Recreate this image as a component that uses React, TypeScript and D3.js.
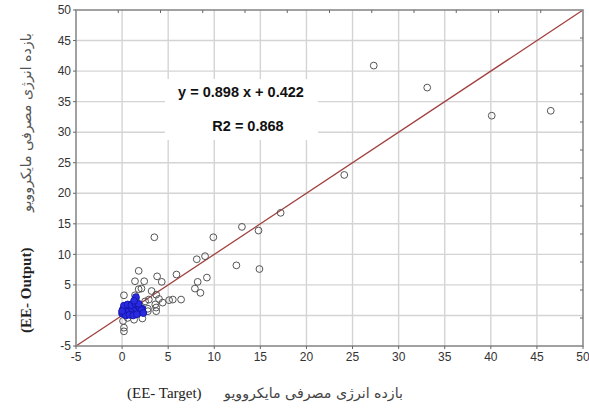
import React from "react";
import * as d3 from "d3";

const greyTarget = [27.3, 33.1, 40.1, 46.5, 24.1, 17.2, 13.0, 14.8, 9.9, 3.5, 12.4, 14.9, 9.0, 8.1, 9.2, 8.2, 7.9, 8.5, 5.9, 3.8, 4.3, 1.8, 1.4, 2.4, 0.2, 1.8, 2.1, 3.2, 1.4, 3.7, 4.0, 1.5, 2.5, 2.9, 4.4, 3.6, 5.1, 5.5, 6.4, 3.7, 2.8, 3.7, 2.2, 1.3, 0.6, 0.1, 0.2, 0.2, 0.1, 1.0, 2.8];
const greyOutput = [40.9, 37.3, 32.7, 33.5, 23.0, 16.8, 14.5, 13.9, 12.8, 12.8, 8.2, 7.6, 9.7, 9.2, 6.2, 5.5, 4.4, 3.7, 6.7, 6.4, 5.5, 7.3, 5.6, 5.6, 3.3, 4.3, 4.4, 4.0, 3.3, 3.4, 2.7, 2.6, 2.3, 2.6, 2.1, 1.8, 2.5, 2.6, 2.6, 0.7, 0.7, 1.3, -0.5, -0.7, -0.4, -0.9, -2.0, -2.6, 1.0, 1.8, 1.1];

const blueTarget = [0.0, 0.2, 0.4, 0.6, 0.8, 1.0, 1.2, 1.4, 1.6, 1.8, 2.0, 2.2, 0.1, 0.3, 0.5, 0.7, 0.9, 1.1, 1.3, 1.5, 1.7, 1.9, 2.1, 0.2, 0.6, 1.0, 1.4, 1.8, 0.4, 0.8, 1.2, 1.6, 1.5, 1.3, 2.3, 0.0];
const blueOutput = [0.3, 0.5, 0.2, 0.7, 0.4, 0.6, 0.3, 0.9, 0.5, 0.8, 0.6, 1.1, 1.0, 0.8, 1.2, 0.9, 1.4, 1.1, 1.5, 1.2, 1.6, 1.3, 0.9, 1.6, 1.8, 1.7, 2.0, 1.9, 0.0, 0.1, 0.0, 0.2, 3.0, 2.4, 0.4, 0.7];

const tickValues = [-5, 0, 5, 10, 15, 20, 25, 30, 35, 40, 45, 50];
const fitLine = [-5, 50];
const equationText = "y = 0.898 x + 0.422";
const r2Text = "R2 = 0.868";
const persianLabel = "بازده انرژی مصرفی مایکروویو";
const xLabelEn = "(EE- Target)";
const yLabelEn = "(EE- Output)";

export default function App() {
  const left = 76, right = 583, top = 10, bottom = 346;
  const x = d3.scaleLinear().domain([-5, 50]).range([left, right]);
  const y = d3.scaleLinear().domain([-5, 50]).range([bottom, top]);
  const minor = d3.scaleLinear().domain([0, 12]);
  const minorX = minor.copy().range([left, right]);
  const minorY = minor.copy().range([bottom, top]);
  const minorTicks = d3.range(1, 12);
  const line = d3.line<number>().x((d) => x(d)).y((d) => y(d));

  return (
    <svg width={589} height={413} style={{ position: "absolute", left: 0, top: 0, background: "#fff" }}>
      <rect x={0} y={0} width={589} height={413} fill="#fff" />
      {tickValues.slice(1, -1).map((t) => (
        <g key={"g" + t}>
          <line x1={x(t)} x2={x(t)} y1={top} y2={bottom} stroke="#d4d4d4" strokeWidth={1.4} />
          <line x1={left} x2={right} y1={y(t)} y2={y(t)} stroke="#d4d4d4" strokeWidth={1.4} />
        </g>
      ))}
      <rect x={165} y={79} width={153} height={61} fill="#fff" />
      <path d={line(fitLine) || ""} stroke="#a0403f" strokeWidth={1.3} fill="none" />
      {greyTarget.map((v, i) => (
        <circle key={"p" + i} cx={x(v)} cy={y(greyOutput[i])} r={3.4} fill="none" stroke="#555" strokeWidth={1} />
      ))}
      {blueTarget.map((v, i) => (
        <circle key={"b" + i} cx={x(v)} cy={y(blueOutput[i])} r={3.4} fill="#2a2ae0" stroke="#1515b0" strokeWidth={1} />
      ))}
      <rect x={left} y={top} width={right - left} height={bottom - top} fill="none" stroke="#8a8a8a" strokeWidth={1.6} />
      {minorTicks.map((t) => (
        <g key={"m" + t}>
          <line x1={minorX(t)} x2={minorX(t)} y1={top} y2={top + 3} stroke="#666" strokeWidth={1} />
          <line x1={right} x2={right - 3} y1={minorY(t)} y2={minorY(t)} stroke="#666" strokeWidth={1} />
        </g>
      ))}
      {tickValues.map((t) => (
        <g key={"t" + t}>
          <line x1={left - 3} x2={left} y1={y(t)} y2={y(t)} stroke="#666" strokeWidth={1} />
          <line x1={x(t)} x2={x(t)} y1={bottom} y2={bottom + 3} stroke="#666" strokeWidth={1} />
          <text x={left - 5} y={y(t)} dy="0.35em" textAnchor="end" fontFamily="Liberation Sans, Arial, sans-serif" fontSize={12} fill="#333">{t}</text>
          <text x={x(t)} y={bottom + 15} textAnchor="middle" fontFamily="Liberation Sans, Arial, sans-serif" fontSize={12} fill="#333">{t}</text>
        </g>
      ))}
      <text x={241} y={97} textAnchor="middle" fontFamily="Liberation Sans, Arial, sans-serif" fontWeight="bold" fontSize={14.5} fill="#111">{equationText}</text>
      <text x={248} y={131} textAnchor="middle" fontFamily="Liberation Sans, Arial, sans-serif" fontWeight="bold" fontSize={14.5} fill="#111">{r2Text}</text>
      <text x={127} y={398} fontFamily="Liberation Serif, Times New Roman, serif" fontSize={15} fill="#222">{xLabelEn}</text>
      <text x={403} y={398} textAnchor="end" fontFamily="DejaVu Sans, sans-serif" fontSize={14.2} fill="#444">{persianLabel}</text>
      <g transform="translate(31,0) rotate(-90)">
        <text x={-333} y={0} fontFamily="Liberation Serif, Times New Roman, serif" fontWeight="bold" fontSize={15} fill="#222">{yLabelEn}</text>
        <text x={-33} y={0} textAnchor="end" fontFamily="DejaVu Sans, sans-serif" fontSize={14.2} fill="#555">{persianLabel}</text>
      </g>
    </svg>
  );
}
